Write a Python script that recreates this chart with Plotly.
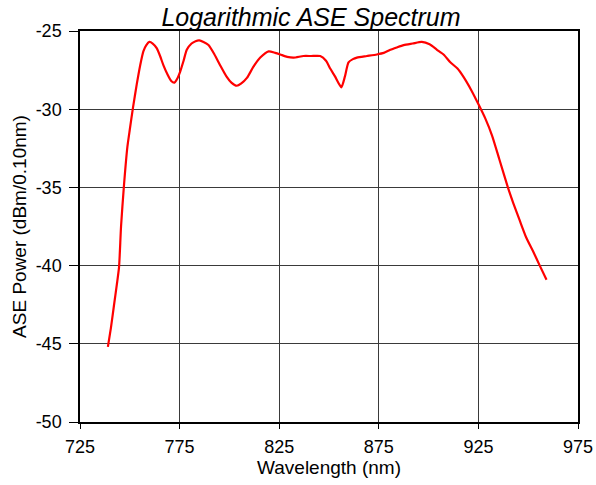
import plotly.graph_objects as go

wavelength_nm = [739.0, 740.5, 742.0, 743.5, 744.6, 745.6, 747.0, 748.8, 750.0, 751.6, 753.5,
                 755.2, 756.8, 758.3, 759.8, 761.5, 763.5, 765.2, 766.9, 769.0, 770.8, 772.4,
                 774.0, 775.3, 777.0, 778.6, 781.0, 783.0, 784.9, 787.0, 789.5, 792.5, 795.4,
                 798.5, 801.0, 803.7, 806.0, 808.8, 812.0, 815.5, 819.7, 823.0, 825.5, 829.0,
                 832.2, 837.2, 841.0, 845.6, 848.5, 850.6, 853.0, 856.2, 858.0, 859.8, 862.0,
                 864.0, 869.0, 874.0, 877.5, 880.8, 884.0, 887.5, 892.0, 896.6, 900.5, 904.2,
                 907.5, 910.9, 914.5, 917.6, 921.5, 925.1, 928.5, 931.9, 935.5, 939.8, 942.5,
                 945.7, 949.0, 952.5, 955.8, 959.2]
ase_power_dbm = [-45.2, -44.0, -42.6, -41.2, -40.1, -37.5, -35.0, -32.4, -31.3, -29.9, -28.4,
                 -27.2, -26.3, -25.9, -25.7, -25.8, -26.1, -26.6, -27.2, -27.8, -28.2, -28.3,
                 -28.0, -27.6, -26.9, -26.2, -25.8, -25.65, -25.6, -25.7, -25.9, -26.5, -27.2,
                 -27.9, -28.3, -28.5, -28.35, -28.0, -27.3, -26.7, -26.3, -26.4, -26.5, -26.65,
                 -26.7, -26.6, -26.6, -26.6, -26.9, -27.4, -27.9, -28.6, -27.9, -27.0, -26.8,
                 -26.7, -26.6, -26.5, -26.4, -26.2, -26.05, -25.9, -25.8, -25.7, -25.85, -26.2,
                 -26.5, -27.0, -27.4, -27.95, -28.8, -29.7, -30.6, -31.7, -33.2, -35.0, -36.0,
                 -37.1, -38.2, -39.1, -40.0, -40.9]

x_ticks = [725, 775, 825, 875, 925, 975]
y_ticks = [-50, -45, -40, -35, -30, -25]

FONT = "Liberation Sans, Arial"

fig = go.Figure()
fig.add_trace(go.Scatter(
    x=wavelength_nm, y=ase_power_dbm, mode="lines",
    line=dict(color="#FF0000", width=2.2, shape="spline", smoothing=0.6),
    showlegend=False, hoverinfo="skip",
))

axis_common = dict(
    showgrid=True, gridcolor="#3a3a3a", gridwidth=1,
    showline=True, linecolor="black", linewidth=1.5, mirror=True,
    ticks="outside", tickcolor="black",
    tickfont=dict(family=FONT, size=18, color="black"),
    zeroline=False, automargin=False,
)

fig.update_layout(
    width=596, height=485,
    margin=dict(l=80, r=18, t=31, b=63),
    paper_bgcolor="white", plot_bgcolor="white",
    title=dict(
        text="<i>Logarithmic ASE Spectrum</i>",
        x=311 / 596, xanchor="center", y=1 - 17 / 485, yanchor="middle",
        font=dict(family=FONT, size=25, color="black"),
    ),
    xaxis=dict(
        range=[725, 975], tickvals=x_ticks, ticktext=[str(v) for v in x_ticks],
        ticklen=5, ticklabelstandoff=3,
        title=dict(text="Wavelength (nm)", standoff=0,
                   font=dict(family=FONT, size=19, color="black")),
        **axis_common,
    ),
    yaxis=dict(
        range=[-50, -25], tickvals=y_ticks, ticktext=[str(v) for v in y_ticks],
        ticklen=9, ticklabelstandoff=4,
        title=dict(text="ASE Power (dBm/0.10nm)", standoff=4,
                   font=dict(family=FONT, size=19, color="black")),
        **axis_common,
    ),
)

fig.write_html("out.html", config={"displayModeBar": False},
               post_script="document.body.style.margin='0';")
